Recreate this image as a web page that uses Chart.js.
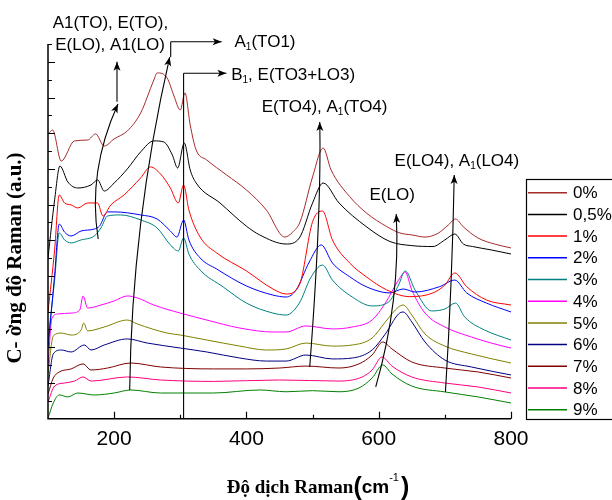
<!DOCTYPE html>
<html>
<head>
<meta charset="utf-8">
<script src="https://cdn.jsdelivr.net/npm/chart.js@4.4.0/dist/chart.umd.min.js"></script>
<style>
  html, body { margin: 0; padding: 0; background: #fff; }
</style>
</head>
<body>
<canvas id="myChart" width="612" height="500"></canvas>
<script>
// sample labels and colours
const seriesLabels = ['0%', '0,5%', '1%', '2%', '3%', '4%', '5%', '6%', '7%', '8%', '9%'];
const seriesColors = ['#A52A2A', '#000000', '#FF0000', '#0000FF', '#008080', '#FF00FF',
                      '#808000', '#000080', '#800000', '#FF0080', '#008000'];
const xTicks = [200, 400, 600, 800];

// Raman shift (cm-1) and intensity (a.u., stacked)
const shift0 = [100,107,120,140,160,172,185,200,220,240,260,265,280,290,300,307,315,324,340,370,400,430,458,470,481,500,516,528,556,581,612,632,650,670,690,705,716,728,750,775,800];
const int0 = [15.96,16.18,14.44,15.57,15.62,15.96,15.28,15.68,16.13,17.13,18.98,19.38,19.10,18.14,17.30,18.26,16.46,15.06,14.50,13.66,12.82,11.70,10.18,10.46,11.02,13.55,15.17,13.94,12.45,11.54,10.77,10.41,10.30,10.18,10.40,10.85,11.19,10.75,10.13,9.79,9.57];

const shift1 = [100,110,118,130,145,165,175,185,200,220,240,260,275,288,296,306,315,324,360,400,420,460,480,500,516,540,581,617,650,682,700,715,728,742,770,800];
const int1 = [9.01,12.26,14.16,13.27,12.93,13.10,13.38,12.76,13.21,14.00,14.95,15.57,15.51,14.78,14.05,15.45,13.94,13.21,12.09,10.79,10.30,9.79,10.13,12.09,13.21,12.09,10.77,9.93,9.70,9.65,10.02,10.35,9.79,9.65,9.46,9.23];

const shift2 = [100,110,117,125,135,145,160,175,183,195,215,240,255,270,285,297,305,313,330,355,400,440,460,480,500,515,530,556,581,612,647,682,700,715,733,763,800];
const int2 = [5.98,9.46,12.54,12.09,11.98,11.81,12.09,12.09,11.36,11.98,12.54,13.49,14.11,13.72,12.93,12.09,13.10,11.70,10.18,9.29,8.28,7.27,6.99,7.49,11.04,11.64,10.02,8.73,7.96,7.22,6.84,7.05,7.49,8.17,7.40,6.65,6.37];

const shift3 = [100,110,117,125,135,150,170,178,190,200,240,265,285,295,305,313,330,355,400,440,460,475,495,513,530,556,581,617,637,655,692,715,733,763,800];
const int3 = [3.96,8.05,10.91,10.46,10.24,10.52,10.63,10.80,11.59,11.59,11.42,11.19,10.52,10.18,11.14,10.02,9.01,8.39,7.44,6.93,6.82,7.21,8.78,9.74,8.73,7.96,7.40,7.05,7.27,7.10,7.40,7.77,7.05,6.48,5.98];

const shift4 = [100,110,117,125,135,150,170,180,190,210,240,265,285,297,305,313,330,365,400,440,460,480,497,515,530,560,590,615,630,640,655,680,700,716,730,760,800];
const int4 = [4.41,7.77,10.41,10.02,9.85,10.02,10.24,10.69,11.36,11.42,11.14,10.69,9.74,9.40,10.13,9.23,8.33,7.38,6.48,5.92,5.81,6.48,7.89,8.61,7.77,6.82,6.32,6.54,7.49,8.28,7.21,6.04,6.15,6.48,5.70,4.97,4.41];

const shift5 = [100,106,115,135,148,153,160,180,200,220,235,260,300,340,390,440,460,490,530,560,590,610,630,640,650,670,700,740,770,800];
const int5 = [3.01,5.64,5.87,5.92,6.09,6.88,6.20,6.37,6.60,6.88,6.77,6.37,5.92,5.53,5.08,4.86,4.86,5.20,5.03,5.14,5.53,6.48,7.77,8.22,7.21,5.92,5.14,4.58,4.24,3.96];

const shift6 = [100,108,120,135,150,154,160,185,220,235,280,300,340,390,430,460,490,530,560,590,610,630,637,650,670,700,740,800];
const int6 = [2.56,4.64,4.80,4.69,4.97,5.36,4.92,5.14,5.53,5.31,4.80,4.69,4.41,4.07,3.85,3.91,4.24,4.07,4.13,4.52,5.42,6.26,6.37,5.81,4.75,4.07,3.63,3.12];

const shift7 = [100,108,120,135,155,165,185,220,250,300,340,390,430,460,490,530,560,590,610,630,637,650,670,700,740,800];
const int7 = [1.83,3.63,3.85,3.74,4.13,3.85,4.13,4.47,4.24,3.96,3.74,3.40,3.23,3.23,3.57,3.35,3.40,3.85,4.75,5.87,5.98,5.42,4.30,3.29,2.90,2.45];

const shift8 = [100,108,117,135,153,165,190,225,270,350,400,450,490,540,570,590,606,620,650,700,750,800];
const int8 = [1.38,2.28,2.62,2.79,3.07,2.73,2.84,3.12,2.90,2.79,2.79,2.84,2.95,2.84,3.07,3.57,4.30,3.91,3.18,2.84,2.62,2.28];

const shift9 = [100,110,125,140,153,165,220,270,350,450,540,575,590,605,620,650,700,750,800];
const int9 = [0.94,1.83,2.00,2.11,2.34,2.11,2.34,2.17,2.09,2.17,2.11,2.34,2.73,3.46,2.95,2.34,2.00,1.78,1.44];

const shift10 = [100,108,117,130,145,170,200,225,270,350,420,460,500,540,570,590,606,620,650,700,750,800];
const int10 = [0.02,0.88,1.33,1.22,1.44,1.33,1.44,1.61,1.44,1.44,1.61,1.51,1.57,1.51,1.72,2.28,3.01,2.51,1.83,1.50,1.22,0.88];

const shifts = [shift0, shift1, shift2, shift3, shift4, shift5, shift6, shift7, shift8, shift9, shift10];
const intensities = [int0, int1, int2, int3, int4, int5, int6, int7, int8, int9, int10];

// mode labels and arrows, in data units (cm-1, a.u.)
const notes = [
  {text: 'A1(TO), E(TO),', at: [107, 22.18]},
  {text: 'E(LO), A1(LO)', at: [111, 20.95]},
  {text: 'A_1(TO1)', at: [382, 21.08]},
  {text: 'B_1, E(TO3+LO3)', at: [377, 19.27]},
  {text: 'E(TO4), A_1(TO4)', at: [423, 17.47]},
  {text: 'E(LO4), A_1(LO4)', at: [624, 14.41]},
  {text: 'E(LO)', at: [586, 12.54]}
];
const arrows = [
  {from: [175.9, 10.07], ctrl: [159.4, 13.86], to: [205.8, 17.64]},
  {from: [204.3, 17.77], to: [204.3, 20.01]},
  {from: [223.5, 1.61], ctrl: [226.5, 10.94], to: [284.0, 20.27]},
  {from: [285.5, 20.27], to: [285.5, 21.13], head: false},
  {from: [285.5, 21.13], to: [362.6, 21.13]},
  {from: [305, 0], to: [305, 19.36], head: false},
  {from: [305, 19.36], to: [369.7, 19.36]},
  {from: [495.7, 2.90], ctrl: [513.8, 11.70], to: [510.8, 16.63]},
  {from: [700.9, 1.50], ctrl: [711.1, 7.63], to: [714.2, 13.66]},
  {from: [595.5, 1.78], ctrl: [633.3, 6.65], to: [626.5, 11.47]}
];

const datasets = seriesLabels.map((label, i) => {
  return {
    label: label,
    data: shifts[i].map((x, j) => ({x: x, y: intensities[i][j]})),
    borderColor: seriesColors[i],
    backgroundColor: seriesColors[i],
    borderWidth: 1,
    pointRadius: 0,
    fill: false,
    cubicInterpolationMode: 'monotone'
  }
});

function drawRich(ctx, str, x, y, size) {
  // "_1" means subscript 1
  const parts = str.split('_');
  let cx = x;
  parts.forEach((p, k) => {
    if (k > 0) {
      ctx.font = Math.round(size * 0.6) + 'px "Liberation Sans"';
      ctx.fillText(p[0], cx, y + size * 0.3);
      cx += ctx.measureText(p[0]).width;
      p = p.slice(1);
    }
    ctx.font = size + 'px "Liberation Sans"';
    ctx.fillText(p, cx, y);
    cx += ctx.measureText(p).width;
  });
}

function arrowHead(ctx, x, y, dx, dy) {
  const len = Math.hypot(dx, dy);
  const ux = dx / len, uy = dy / len;
  const L = 9, W = 3.5;
  ctx.beginPath();
  ctx.moveTo(x, y);
  ctx.lineTo(x - ux * L - uy * W, y - uy * L + ux * W);
  ctx.lineTo(x - ux * L * 0.75, y - uy * L * 0.75);
  ctx.lineTo(x - ux * L + uy * W, y - uy * L - ux * W);
  ctx.closePath();
  ctx.fill();
}

const frame = {
  id: 'frame',
  afterDraw(chart) {
    const {ctx, chartArea: a} = chart;
    const xs = chart.scales.x, ys = chart.scales.y;
    ctx.save();
    ctx.strokeStyle = '#000';
    ctx.fillStyle = '#000';

    // axes with inward ticks
    ctx.lineWidth = 1.5;
    ctx.beginPath();
    ctx.moveTo(a.left, a.top);
    ctx.lineTo(a.left, a.bottom);
    ctx.lineTo(a.right, a.bottom);
    ctx.stroke();
    ctx.lineWidth = 1.2;
    ctx.beginPath();
    for (let v = 1; v <= 21; v++) {
      const py = Math.round(ys.getPixelForValue(v)) + 0.5;
      ctx.moveTo(a.left, py);
      ctx.lineTo(a.left + (v % 2 === 0 ? 7 : 4), py);
    }
    for (let v = 200; v <= 800; v += 100) {
      const px = Math.round(xs.getPixelForValue(v)) + 0.5;
      ctx.moveTo(px, a.bottom);
      ctx.lineTo(px, a.bottom - (v % 200 === 0 ? 7 : 4));
    }
    ctx.stroke();

    ctx.font = '21px "Liberation Sans"';
    ctx.textAlign = 'center';
    ctx.textBaseline = 'middle';
    xTicks.forEach(v => ctx.fillText(String(v), xs.getPixelForValue(v), 439));

    // x title
    ctx.textAlign = 'left';
    ctx.textBaseline = 'alphabetic';
    const t1 = 'Độ dịch Raman';
    ctx.font = 'bold 19px "Liberation Serif"';
    const w1 = ctx.measureText(t1).width;
    ctx.font = 'bold 25px "Liberation Sans"';
    const wp = ctx.measureText('(').width;
    ctx.font = 'bold 19px "Liberation Sans"';
    const wc = ctx.measureText('cm').width;
    ctx.font = '11px "Liberation Sans"';
    const ws = ctx.measureText('-1').width;
    let tx = 318 - (w1 + 2 * wp + wc + ws + 2) / 2;
    ctx.font = 'bold 19px "Liberation Serif"';
    ctx.fillText(t1, tx, 493); tx += w1;
    ctx.font = 'bold 25px "Liberation Sans"';
    ctx.fillText('(', tx, 495); tx += wp;
    ctx.font = 'bold 19px "Liberation Sans"';
    ctx.fillText('cm', tx, 493); tx += wc;
    ctx.font = '11px "Liberation Sans"';
    ctx.fillText('-1', tx, 481); tx += ws + 2;
    ctx.font = 'bold 25px "Liberation Sans"';
    ctx.fillText(')', tx, 495);

    // y title
    ctx.save();
    ctx.translate(16, 258);
    ctx.rotate(-Math.PI / 2);
    ctx.textAlign = 'center';
    ctx.textBaseline = 'middle';
    ctx.font = 'bold 21px "Liberation Serif"';
    ctx.fillText('C- ờng độ Raman (a.u.)', 0, 0);
    ctx.restore();

    // arrows
    ctx.lineWidth = 1.1;
    arrows.forEach(ar => {
      const x0 = xs.getPixelForValue(ar.from[0]), y0 = ys.getPixelForValue(ar.from[1]);
      const x1 = xs.getPixelForValue(ar.to[0]), y1 = ys.getPixelForValue(ar.to[1]);
      ctx.beginPath();
      ctx.moveTo(x0, y0);
      let dx = x1 - x0, dy = y1 - y0;
      if (ar.ctrl) {
        const cx = xs.getPixelForValue(ar.ctrl[0]), cy = ys.getPixelForValue(ar.ctrl[1]);
        ctx.quadraticCurveTo(cx, cy, x1, y1);
        dx = x1 - cx; dy = y1 - cy;
      } else {
        ctx.lineTo(x1, y1);
      }
      ctx.stroke();
      if (ar.head !== false) arrowHead(ctx, x1, y1, dx, dy);
    });

    // labels
    ctx.textAlign = 'left';
    ctx.textBaseline = 'middle';
    notes.forEach(n => drawRich(ctx, n.text, xs.getPixelForValue(n.at[0]), ys.getPixelForValue(n.at[1]), 17));

    // legend box
    ctx.lineWidth = 1.2;
    ctx.strokeRect(526.5, 179.5, 100, 240);
    chart.data.datasets.forEach((ds, i) => {
      const yy = 192.7 + i * 21.7;
      ctx.strokeStyle = ds.borderColor;
      ctx.lineWidth = 1.5;
      ctx.beginPath();
      ctx.moveTo(528, yy);
      ctx.lineTo(567, yy);
      ctx.stroke();
      ctx.fillStyle = '#000';
      ctx.font = '17px "Liberation Sans"';
      ctx.fillText(ds.label, 573, yy + 1);
    });
    ctx.restore();
  }
};

const config = {
  type: 'line',
  data: {datasets: datasets},
  options: {
    responsive: false,
    animation: false,
    layout: {padding: {left: 48, right: 101, top: 44, bottom: 81.3}},
    plugins: {
      legend: {display: false},
      tooltip: {enabled: false}
    },
    scales: {
      x: {type: 'linear', min: 100, max: 800, display: false},
      y: {type: 'linear', min: 0, max: 21, display: false}
    }
  },
  plugins: [frame]
};

var ctx = document.getElementById('myChart').getContext('2d');
var myChart = new Chart(ctx, config);
</script>
</body>
</html>
